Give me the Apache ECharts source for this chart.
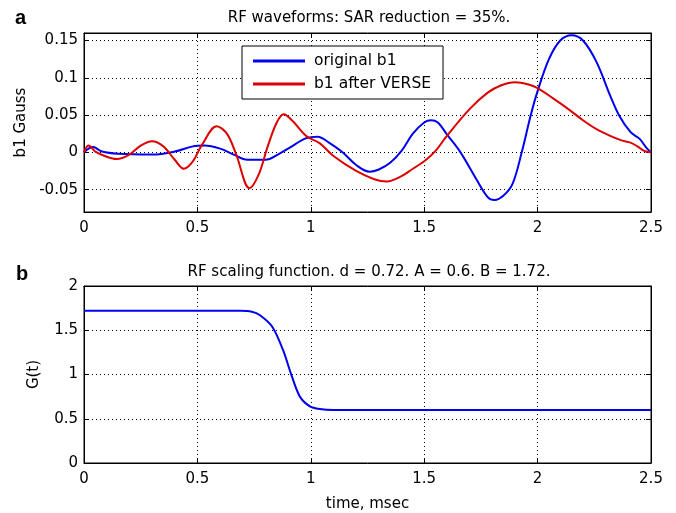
<!DOCTYPE html>
<html><head><meta charset="utf-8">
<script src="https://cdn.jsdelivr.net/npm/echarts@6/dist/echarts.min.js"></script>
<style>html,body{margin:0;padding:0;background:#fff}#c{width:676px;height:513px}</style>
</head><body><div id="c"></div>
<script>
// ---- data ----
var origT  = [0,0.04,0.08,0.15,0.3,0.4,0.48,0.53,0.6,0.66,0.72,0.8,0.86,0.9,0.98,1.03,1.08,1.14,1.2,1.26,1.3,1.35,1.4,1.45,1.5,1.53,1.56,1.6,1.66,1.73,1.78,1.81,1.85,1.89,1.93,1.97,2.0,2.05,2.1,2.15,2.2,2.26,2.32,2.36,2.41,2.45,2.48,2.5];
var origB1 = [0,0.007,0.001,-0.002,-0.003,0.001,0.008,0.009,0.005,-0.003,-0.010,-0.010,-0.002,0.005,0.019,0.021,0.013,0.000,-0.017,-0.026,-0.023,-0.014,0.002,0.025,0.040,0.043,0.040,0.024,0.000,-0.036,-0.060,-0.064,-0.058,-0.042,0.000,0.050,0.082,0.125,0.150,0.157,0.150,0.121,0.076,0.049,0.027,0.018,0.006,0];
var verseT  = [0,0.02,0.05,0.1,0.145,0.2,0.25,0.3,0.35,0.4,0.44,0.48,0.52,0.585,0.63,0.67,0.73,0.77,0.81,0.85,0.88,0.92,0.98,1.04,1.1,1.2,1.28,1.335,1.4,1.45,1.5,1.55,1.6,1.7,1.78,1.84,1.9,1.96,2.0,2.07,2.14,2.2,2.26,2.32,2.37,2.41,2.44,2.47,2.5];
var verseB1 = [0,0.009,0.001,-0.006,-0.009,-0.003,0.009,0.015,0.008,-0.010,-0.022,-0.012,0.010,0.035,0.025,-0.002,-0.048,-0.030,0.008,0.040,0.051,0.042,0.022,0.012,-0.005,-0.025,-0.036,-0.039,-0.032,-0.022,-0.012,0.002,0.022,0.058,0.080,0.090,0.094,0.091,0.086,0.072,0.057,0.043,0.031,0.022,0.016,0.013,0.008,0.002,0];
var gT    = [0,0.69,0.74,0.776,0.83,0.877,0.917,0.952,0.996,1.04,1.1,1.5,2.0,2.5];
var gVals = [1.72,1.72,1.71,1.67,1.54,1.28,0.975,0.75,0.64,0.61,0.6,0.6,0.6,0.6];
var xTicks = [0,0.5,1,1.5,2,2.5];
var yTicksA = [-0.05,0,0.05,0.1,0.15];
var yTicksB = [0,0.5,1,1.5,2];
var seriesNames = ['original b1','b1 after VERSE'];
var titleA = 'RF waveforms: SAR reduction = 35%.';
var titleB = 'RF scaling function. d = 0.72. A = 0.6. B = 1.72.';

function pairs(t, v){ return t.map(function(x,i){return [x, v[i]];}); }

var FONT = 'DejaVu Sans, Verdana, sans-serif';
var labelStyle = {color:'#000', fontSize:15, fontFamily:FONT};
var dotted = {show:true, lineStyle:{color:'#000', type:[1,3], width:1}};
var tick = {show:true, inside:true, length:5, lineStyle:{color:'#000'}};

function xAx(gi, name){
  return {type:'value', gridIndex:gi, min:0, max:2.5, interval:0.5,
    axisLine:{show:true, onZero:false, lineStyle:{color:'#000', width:1}},
    axisTick:tick,
    axisLabel:Object.assign({margin:9}, labelStyle),
    splitLine:dotted,
    name:name||'', nameLocation:'middle', nameGap:34,
    nameTextStyle:{color:'#000', fontSize:15, fontFamily:FONT}};
}
function xTop(gi){
  return {type:'value', gridIndex:gi, position:'top', min:0, max:2.5, interval:0.5,
    axisLine:{show:true, onZero:false, lineStyle:{color:'#000'}},
    axisTick:tick, axisLabel:{show:false}, splitLine:{show:false}};
}

var option = {
  animation:false,
  backgroundColor:'#fff',
  title:[
    {text:'a', left:10, top:3, textStyle:{fontSize:20, fontWeight:'bold', color:'#000', fontFamily:'Liberation Sans, Arial, sans-serif'}},
    {text:titleA, left:364, textAlign:'center', top:6, textStyle:{fontSize:15, fontWeight:'normal', color:'#000', fontFamily:FONT}},
    {text:'b', left:11, top:259, textStyle:{fontSize:20, fontWeight:'bold', color:'#000', fontFamily:'Liberation Sans, Arial, sans-serif'}},
    {text:titleB, left:364, textAlign:'center', top:260, textStyle:{fontSize:15, fontWeight:'normal', color:'#000', fontFamily:FONT}}
  ],
  legend:{
    data:seriesNames, orient:'vertical', left:242, top:46,
    padding:[7,12,7,11], itemGap:7, itemWidth:52, itemHeight:3,
    icon:'rect', backgroundColor:'#fff', borderColor:'#000', borderWidth:1,
    textStyle:{color:'#000', fontSize:15.5, fontFamily:FONT, padding:[0,0,0,4]}
  },
  grid:[
    {left:84, right:25, top:33, height:179, show:true, borderColor:'#000', borderWidth:1, backgroundColor:'#fff'},
    {left:84, right:25, top:286, height:177, show:true, borderColor:'#000', borderWidth:1, backgroundColor:'#fff'}
  ],
  xAxis:[xAx(0), xTop(0), xAx(1, 'time, msec'), xTop(1)],
  yAxis:[
    {type:'value', gridIndex:0, min:-0.08, max:0.16,
     axisLine:{show:true, onZero:false, lineStyle:{color:'#000'}},
     axisTick:Object.assign({customValues:yTicksA}, tick),
     axisLabel:Object.assign({margin:6, customValues:yTicksA}, labelStyle),
     splitLine:dotted,
     name:'b1 Gauss', nameLocation:'middle', nameGap:47, nameTextStyle:{color:'#000', fontSize:15, fontFamily:FONT}},
    {type:'value', gridIndex:0, position:'right', min:-0.08, max:0.16,
     axisLine:{show:true, onZero:false, lineStyle:{color:'#000'}},
     axisTick:Object.assign({customValues:yTicksA}, tick),
     axisLabel:{show:false}, splitLine:{show:false}},
    {type:'value', gridIndex:1, min:0, max:2, interval:0.5,
     axisLine:{show:true, onZero:false, lineStyle:{color:'#000'}},
     axisTick:tick,
     axisLabel:Object.assign({margin:6}, labelStyle),
     splitLine:dotted,
     name:'G(t)', nameLocation:'middle', nameGap:42, nameTextStyle:{color:'#000', fontSize:15, fontFamily:FONT}},
    {type:'value', gridIndex:1, position:'right', min:0, max:2, interval:0.5,
     axisLine:{show:true, onZero:false, lineStyle:{color:'#000'}},
     axisTick:tick, axisLabel:{show:false}, splitLine:{show:false}}
  ],
  series:[
    {name:seriesNames[0], type:'line', xAxisIndex:0, yAxisIndex:0, data:pairs(origT, origB1), smooth:0.35, showSymbol:false, lineStyle:{color:'#0000f0', width:2}, itemStyle:{color:'#0000f0'}},
    {name:seriesNames[1], type:'line', xAxisIndex:0, yAxisIndex:0, data:pairs(verseT, verseB1), smooth:0.35, showSymbol:false, lineStyle:{color:'#dd0000', width:2}, itemStyle:{color:'#dd0000'}},
    {name:'G', type:'line', xAxisIndex:2, yAxisIndex:2, data:pairs(gT, gVals), smooth:0.3, showSymbol:false, lineStyle:{color:'#0000f0', width:2}, itemStyle:{color:'#0000f0'}}
  ]
};
var chart = echarts.init(document.getElementById('c'), null, {renderer:'canvas'});
chart.setOption(option);
</script></body></html>
